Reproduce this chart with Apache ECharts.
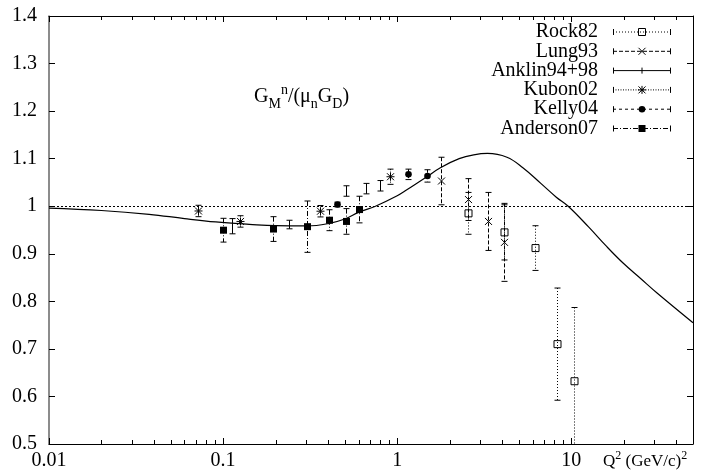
<!DOCTYPE html>
<html>
<head>
<meta charset="utf-8">
<script src="https://cdn.jsdelivr.net/npm/echarts@6/dist/echarts.min.js"></script>
<style>
  html, body { margin: 0; padding: 0; background: #fff; }
  #chart { width: 712px; height: 475px; }
</style>
</head>
<body>
<div id="chart"></div>
<script>
// values: Q^2 (GeV/c)^2, G_M^n/(mu_n G_D), error
const rockQ2 = [2.55, 4.12, 6.18, 8.23, 10.3];
const rockG = [0.985, 0.945, 0.912, 0.710, 0.632];
const rockErr = [0.044, 0.058, 0.047, 0.118, 0.155];

const lungQ2 = [1.78, 2.55, 3.32, 4.12];
const lungG = [1.053, 1.014, 0.968, 0.924];
const lungErr = [0.050, 0.044, 0.061, 0.082];

const anklinQ2 = [0.112, 0.2385, 0.51, 0.664, 0.798];
const anklinG = [0.958, 0.9615, 1.032, 1.037, 1.043];
const anklinErr = [0.016, 0.009, 0.011, 0.011, 0.011];

const kubonQ2 = [0.0716, 0.1258, 0.3625, 0.912];
const kubonG = [0.990, 0.968, 0.9895, 1.062];
const kubonErr = [0.012, 0.012, 0.012, 0.016];

const kellyQ2 = [0.454, 1.157, 1.481];
const kellyG = [1.0036, 1.067, 1.0637];
const kellyErr = [0.005, 0.011, 0.013];

const andersonQ2 = [0.1004, 0.1946, 0.3053, 0.408, 0.505, 0.605];
const andersonG = [0.9496, 0.952, 0.957, 0.9706, 0.968, 0.993];
const andersonErr = [0.025, 0.026, 0.054, 0.022, 0.027, 0.028];

// parametrisation curve (solid line)
const fitQ2 = [0.01, 0.02, 0.0376, 0.06, 0.0908, 0.1413, 0.2, 0.305, 0.408, 0.5, 0.6, 0.75,
  1.0, 1.13, 1.48, 1.77, 2.27, 2.75, 3.3, 4.27, 5.27, 6.68, 8.2, 9.6, 12.6, 15.8, 19.9, 25, 31.2, 50];
const fitG = [0.996, 0.991, 0.983, 0.974, 0.967, 0.962, 0.959, 0.9586, 0.964, 0.973, 0.987, 1.0,
  1.022, 1.034, 1.062, 1.081, 1.100, 1.108, 1.111, 1.103, 1.081, 1.048, 1.019, 1.0, 0.956, 0.917,
  0.880, 0.848, 0.817, 0.755];

const refLevel = 1;
const minorXTicks = [0.02, 0.03, 0.04, 0.05, 0.06, 0.07, 0.08, 0.09,
  0.2, 0.3, 0.4, 0.5, 0.6, 0.7, 0.8, 0.9,
  2, 3, 4, 5, 6, 7, 8, 9, 20, 30, 40];

const legendNames = ['Rock82', 'Lung93', 'Anklin94+98', 'Kubon02', 'Kelly04', 'Anderson07'];

const FONT = 'Liberation Serif';

// marker glyphs, gnuplot style
function markerShapes(kind, cx, cy) {
  const s = 3.5;
  const st = { stroke: '#000', lineWidth: 1, fill: 'none' };
  const ln = (x1, y1, x2, y2) => ({ type: 'line', shape: { x1, y1, x2, y2 }, style: st });
  switch (kind) {
    case 'openSquare':
      return [{ type: 'rect', shape: { x: cx - s, y: cy - s, width: 2 * s, height: 2 * s }, style: st }];
    case 'cross':
      return [ln(cx - s, cy - s, cx + s, cy + s), ln(cx - s, cy + s, cx + s, cy - s)];
    case 'star':
      return [ln(cx - s, cy - s, cx + s, cy + s), ln(cx - s, cy + s, cx + s, cy - s),
        ln(cx - s - 0.5, cy, cx + s + 0.5, cy), ln(cx, cy - s - 0.5, cx, cy + s + 0.5)];
    case 'dot':
      return [{ type: 'circle', shape: { cx, cy, r: 3.3 }, style: { fill: '#000' } }];
    case 'fillSquare':
      return [{ type: 'rect', shape: { x: cx - s, y: cy - s, width: 2 * s, height: 2 * s }, style: { fill: '#000' } }];
    case 'tick':
      return [ln(cx, cy - 3, cx, cy + 3)];
    default:
      return [];
  }
}

const sets = [
  { name: 'Rock82', q2: rockQ2, g: rockG, err: rockErr, kind: 'openSquare', dash: [1, 2] },
  { name: 'Lung93', q2: lungQ2, g: lungG, err: lungErr, kind: 'cross', dash: [4, 2] },
  { name: 'Anklin94+98', q2: anklinQ2, g: anklinG, err: anklinErr, kind: 'none', dash: null },
  { name: 'Kubon02', q2: kubonQ2, g: kubonG, err: kubonErr, kind: 'star', dash: [1, 1.5] },
  { name: 'Kelly04', q2: kellyQ2, g: kellyG, err: kellyErr, kind: 'dot', dash: [3, 3] },
  { name: 'Anderson07', q2: andersonQ2, g: andersonG, err: andersonErr, kind: 'fillSquare', dash: [5, 2, 1, 2] }
];

function errorSeries(set) {
  return {
    type: 'custom',
    name: set.name,
    clip: true,
    silent: true,
    data: set.q2.map((q, i) => [q, set.g[i], set.err[i]]),
    renderItem(params, api) {
      const q = api.value(0), v = api.value(1), e = api.value(2);
      const c = api.coord([q, v]);
      const hi = api.coord([q, v + e]);
      const lo = api.coord([q, v - e]);
      const x = Math.round(c[0]) + 0.5;
      const solid = { stroke: '#000', lineWidth: 1 };
      const children = [
        { type: 'line', shape: { x1: x, y1: hi[1], x2: x, y2: lo[1] },
          style: { stroke: '#000', lineWidth: 1, lineDash: set.dash } },
        { type: 'line', shape: { x1: x - 3, y1: hi[1], x2: x + 3, y2: hi[1] }, style: solid },
        { type: 'line', shape: { x1: x - 3, y1: lo[1], x2: x + 3, y2: lo[1] }, style: solid }
      ].concat(markerShapes(set.kind, x, c[1]));
      return { type: 'group', children };
    }
  };
}

// legend drawn gnuplot-like: text right aligned, sample on the right
const legendGraphics = [];
legendNames.forEach((nm, i) => {
  const set = sets.find(s => s.name === nm);
  const y = 32 + i * 19.3;
  const x1 = 613, x2 = 671, xm = 642;
  legendGraphics.push({
    type: 'text', x: 598, y: y,
    style: { text: nm, font: '20px "' + FONT + '"', fill: '#000', align: 'right', verticalAlign: 'middle' }
  });
  legendGraphics.push({ type: 'line', shape: { x1, y1: y, x2, y2: y },
    style: { stroke: '#000', lineWidth: 1, lineDash: set.dash } });
  legendGraphics.push({ type: 'line', shape: { x1: x1 + 0.5, y1: y - 3, x2: x1 + 0.5, y2: y + 3 }, style: { stroke: '#000', lineWidth: 1 } });
  legendGraphics.push({ type: 'line', shape: { x1: x2 - 0.5, y1: y - 3, x2: x2 - 0.5, y2: y + 3 }, style: { stroke: '#000', lineWidth: 1 } });
  markerShapes(set.kind === 'none' ? 'tick' : set.kind, xm, y).forEach(m => legendGraphics.push(m));
});

const chart = echarts.init(document.getElementById('chart'));

const axisLineStyle = { lineStyle: { color: '#000', width: 1 } };
const xAxisBase = {
  type: 'log',
  logBase: 10,
  min: 0.01,
  max: 50,
  axisLine: axisLineStyle,
  axisTick: { inside: true, length: 6, lineStyle: { color: '#000' } },
  splitLine: { show: false }
};
const yAxisBase = {
  type: 'value',
  min: 0.5,
  max: 1.4,
  interval: 0.1,
  axisLine: { show: true, lineStyle: { color: '#000', width: 1 } },
  axisTick: { inside: true, length: 6, lineStyle: { color: '#000' } },
  splitLine: { show: false }
};

chart.setOption({
  animation: false,
  backgroundColor: '#fff',
  grid: { left: 49, right: 19, top: 16, bottom: 31 },
  xAxis: [
    Object.assign({}, xAxisBase, {
      position: 'bottom',
      axisLabel: { fontFamily: FONT, fontSize: 20, color: '#000', margin: 7, showMaxLabel: false }
    }),
    Object.assign({}, xAxisBase, { position: 'top', axisLabel: { show: false } })
  ],
  yAxis: [
    Object.assign({}, yAxisBase, {
      position: 'left',
      axisLine: { show: true, lineStyle: { color: '#666', width: 1.5 } },
      axisLabel: { fontFamily: FONT, fontSize: 20, color: '#000', margin: 12 }
    }),
    Object.assign({}, yAxisBase, { position: 'right', axisLabel: { show: false } })
  ],
  graphic: legendGraphics.concat([
    {
      type: 'text', x: 254, y: 97,
      style: {
        text: '{a|G}{b|M}{c|n}{a|/(μ}{b|n}{a|G}{b|D}{a|)}',
        verticalAlign: 'middle',
        rich: {
          a: { fontFamily: FONT, fontSize: 20, lineHeight: 28, verticalAlign: 'middle', color: '#000' },
          b: { fontFamily: FONT, fontSize: 14, lineHeight: 14, verticalAlign: 'bottom', color: '#000' },
          c: { fontFamily: FONT, fontSize: 14, lineHeight: 14, verticalAlign: 'top', color: '#000' }
        }
      }
    },
    {
      type: 'text', x: 603, y: 462,
      style: {
        text: '{a|Q}{c|2}{a| (GeV/c)}{c|2}',
        verticalAlign: 'middle',
        rich: {
          a: { fontFamily: FONT, fontSize: 17, lineHeight: 24, verticalAlign: 'middle', color: '#000' },
          c: { fontFamily: FONT, fontSize: 12, lineHeight: 12, verticalAlign: 'top', color: '#000' }
        }
      }
    }
  ]),
  series: [
    {
      type: 'line',
      name: 'fit',
      data: fitQ2.map((q, i) => [q, fitG[i]]),
      smooth: 0.4,
      showSymbol: false,
      silent: true,
      lineStyle: { color: '#000', width: 1.2 },
      markLine: {
        silent: true,
        symbol: 'none',
        label: { show: false },
        lineStyle: { color: '#000', width: 1, type: [2, 2] },
        data: [{ yAxis: refLevel }]
      }
    },
    {
      type: 'custom',
      name: 'minor ticks',
      silent: true,
      data: minorXTicks.map(v => [v]),
      renderItem(params, api) {
        const b = api.coord([api.value(0), 0.5]);
        const t = api.coord([api.value(0), 1.4]);
        const x = Math.round(b[0]) + 0.5;
        return {
          type: 'group',
          children: [
            { type: 'line', shape: { x1: x, y1: b[1], x2: x, y2: b[1] - 4 }, style: { stroke: '#000', lineWidth: 1 } },
            { type: 'line', shape: { x1: x, y1: t[1], x2: x, y2: t[1] + 4 }, style: { stroke: '#000', lineWidth: 1 } }
          ]
        };
      }
    }
  ].concat(sets.map(errorSeries))
});
</script>
</body>
</html>
